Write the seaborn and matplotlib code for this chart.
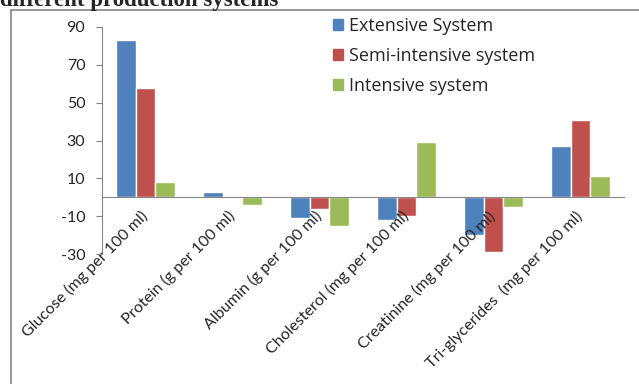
import pandas as pd
import numpy as np
import seaborn as sns
import matplotlib.pyplot as plt
from matplotlib.lines import Line2D

# values
categories = ['Glucose (mg per 100 ml)', 'Protein (g per 100 ml)', 'Albumin (g per 100 ml)',
              'Cholesterol (mg per 100 ml)', 'Creatinine (mg per 100 ml)', 'Tri-glycerides  (mg per 100 ml)']
extensive = [83, 3, -11, -12, -20, 27]
semi_intensive = [58, 0, -6, -10, -29, 41]
intensive = [8, -4, -15, 29, -5, 11]
systems = ['Extensive System', 'Semi-intensive system', 'Intensive system']
colors = ['#4F81BD', '#C0504D', '#9BBB59']
yticks = [-30, -10, 10, 30, 50, 70, 90]

df = pd.DataFrame({'parameter': categories * 3,
                   'value': extensive + semi_intensive + intensive,
                   'system': np.repeat(systems, len(categories))})

sns.set_style('white')
plt.rcParams['font.family'] = ['Lato', 'DejaVu Sans']
plt.rcParams['axes.unicode_minus'] = False

fig = plt.figure(figsize=(6.39, 3.84), dpi=100)
ax = fig.add_axes([102/639, 1 - 254/384, (624 - 102)/639, (254 - 27)/384])

sns.barplot(data=df, x='parameter', y='value', hue='system', order=categories,
            hue_order=systems, palette=colors, width=0.67, gap=0, saturation=1,
            ax=ax, legend=False)

ax.set_xlim(-0.5, len(categories) - 0.5)
ax.set_ylim(-30, 90)
ax.set_yticks(yticks)
ax.set_xlabel('')
ax.set_ylabel('')
ax.set_axisbelow(False)

for s in ['top', 'right']:
    ax.spines[s].set_visible(False)
ax.spines['bottom'].set_position(('data', 0))
ax.spines['bottom'].set_color('#868686')
ax.spines['left'].set_color('#868686')

ax.set_xticks(range(len(categories)))
ax.set_xticklabels(categories, rotation=45, ha='right', va='center', rotation_mode='anchor')
ax.set_xticks(np.arange(-0.5, len(categories)), minor=True)
ax.tick_params(axis='x', which='major', length=0, pad=12, labelsize=11.5, labelcolor='#262626')
ax.tick_params(axis='x', which='minor', length=5, direction='out', color='#868686', width=1)
ax.tick_params(axis='y', length=4, direction='out', color='#868686', left=True,
               labelsize=11.5, labelcolor='#262626', pad=8)

handles = [plt.Rectangle((0, 0), 1, 1, color=c) for c in colors]
fig.legend(handles, systems, loc='upper left', bbox_to_anchor=(317/639, 1 - 1/384),
           frameon=False, prop={'family': 'Open Sans', 'size': 13},
           handlelength=0.55, handleheight=0.55,
           handletextpad=0.3, labelspacing=0.66, labelcolor='#262626')

# outer chart frame and the clipped title above it
fig.add_artist(Line2D([11/639, 11/639], [0, 1 - 10/384], color='#868686', lw=1.2))
fig.add_artist(Line2D([11/639, 1], [1 - 10/384, 1 - 10/384], color='#868686', lw=1.2))
fig.text(0.0, 1 - 6/384, 'different production systems', fontsize=16.5, fontweight='bold',
         family='Liberation Serif', va='baseline', ha='left')

fig.savefig('out.png', dpi=100)
